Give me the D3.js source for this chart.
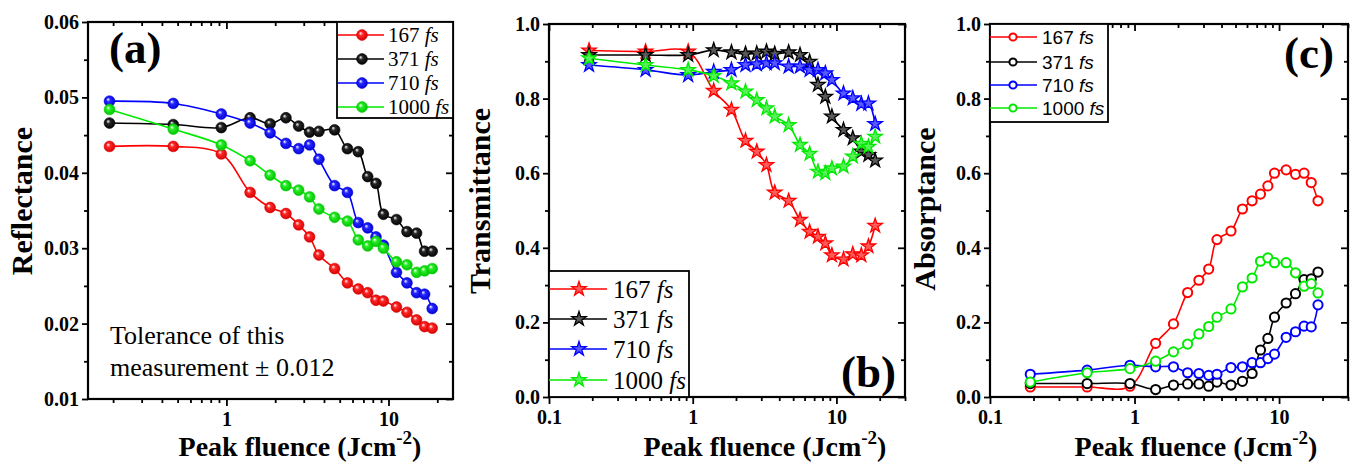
<!DOCTYPE html>
<html>
<head>
<meta charset="utf-8">
<script src="https://cdn.jsdelivr.net/npm/d3@7"></script>
<style>
  body { margin: 0; background: #fff; }
  text { fill: #000; }
</style>
</head>
<body>
<svg id="chart" width="1355" height="463"></svg>
<script>
// peak fluence (J/cm2), shared by all three panels
const fluence = [0.19, 0.47, 0.93, 1.4, 1.86, 2.33, 2.79, 3.26, 3.72, 4.65,
                 5.58, 6.51, 7.44, 8.37, 9.3, 11.2, 13.0, 14.9, 16.7, 18.6];
const durations = ["167", "371", "710", "1000"];
const colours = ["#ff0000", "#000000", "#0000ff", "#00ea00"];

const refl167 = [0.0435, 0.0435, 0.0425, 0.0374, 0.0354, 0.0346, 0.0331, 0.0315, 0.0291, 0.0273,
                 0.0254, 0.0246, 0.0241, 0.0231, 0.0230, 0.0222, 0.0215, 0.0205, 0.0196, 0.0194];
const refl371 = [0.0466, 0.0464, 0.0460, 0.0473, 0.0465, 0.0473, 0.0462, 0.0454, 0.0455, 0.0457,
                 0.0432, 0.0428, 0.0395, 0.0386, 0.0345, 0.0338, 0.0322, 0.0320, 0.0296, 0.0296];
const refl710 = [0.0495, 0.0492, 0.0478, 0.0466, 0.0453, 0.0439, 0.0432, 0.0437, 0.0418, 0.0383,
                 0.0374, 0.0334, 0.0327, 0.0315, 0.0304, 0.0268, 0.0254, 0.0241, 0.0239, 0.0220];
const refl1000 = [0.0484, 0.0458, 0.0437, 0.0416, 0.0397, 0.0383, 0.0377, 0.0368, 0.0352, 0.0341,
                  0.0336, 0.0311, 0.0303, 0.0309, 0.0300, 0.0282, 0.0278, 0.0268, 0.0270, 0.0273];

const trans167 = [0.929, 0.926, 0.926, 0.821, 0.770, 0.687, 0.658, 0.622, 0.548, 0.526,
                  0.475, 0.443, 0.430, 0.412, 0.380, 0.369, 0.383, 0.380, 0.404, 0.459];
const trans371 = [0.917, 0.917, 0.917, 0.930, 0.924, 0.920, 0.921, 0.926, 0.920, 0.924,
                  0.917, 0.899, 0.837, 0.805, 0.752, 0.716, 0.694, 0.658, 0.649, 0.634];
const trans710 = [0.890, 0.877, 0.863, 0.872, 0.877, 0.890, 0.892, 0.895, 0.895, 0.886,
                  0.886, 0.877, 0.877, 0.868, 0.850, 0.814, 0.801, 0.786, 0.787, 0.732];
const trans1000 = [0.908, 0.890, 0.877, 0.861, 0.841, 0.819, 0.796, 0.774, 0.752, 0.729,
                   0.676, 0.652, 0.604, 0.600, 0.613, 0.618, 0.645, 0.679, 0.671, 0.698];

const abs167 = [0.027, 0.027, 0.029, 0.144, 0.196, 0.280, 0.313, 0.343, 0.422, 0.445,
                0.504, 0.526, 0.544, 0.566, 0.600, 0.609, 0.597, 0.600, 0.575, 0.526];
const abs371 = [0.036, 0.036, 0.036, 0.020, 0.032, 0.035, 0.035, 0.029, 0.040, 0.032,
                0.042, 0.063, 0.126, 0.157, 0.214, 0.252, 0.277, 0.315, 0.317, 0.335];
const abs710 = [0.061, 0.072, 0.085, 0.081, 0.081, 0.065, 0.063, 0.058, 0.061, 0.079,
                0.081, 0.092, 0.092, 0.103, 0.115, 0.160, 0.175, 0.190, 0.188, 0.247];
const abs1000 = [0.040, 0.065, 0.076, 0.096, 0.121, 0.142, 0.169, 0.189, 0.214, 0.236,
                 0.295, 0.319, 0.364, 0.373, 0.360, 0.360, 0.333, 0.297, 0.304, 0.279];

const reflTicks = [0.01, 0.02, 0.03, 0.04, 0.05, 0.06];
const fracTicks = [0.0, 0.2, 0.4, 0.6, 0.8, 1.0];

const SERIF = "Liberation Serif, Times New Roman, serif";
const SANS = "Liberation Sans, Arial, sans-serif";

const svg = d3.select("#chart");
const defs = svg.append("defs");

colours.forEach((c, i) => {
  const grad = defs.append("radialGradient")
    .attr("id", `ball-${i}`)
    .attr("cx", "50%").attr("cy", "50%").attr("r", "55%")
    .attr("fx", "35%").attr("fy", "32%");
  grad.append("stop").attr("offset", "0%").attr("stop-color", "#fff");
  grad.append("stop").attr("offset", "35%").attr("stop-color", d3.interpolateRgb(c, "#fff")(0.15));
  grad.append("stop").attr("offset", "100%").attr("stop-color", d3.color(c).darker(0.6));
});

const starPath = d3.symbol(d3.symbolStar, 64)();

const drawMarker = (sel, type, i, small) => {
  const c = colours[i];
  if (type === "ball") {
    sel.append("circle").attr("r", 5.4)
      .attr("fill", `url(#ball-${i})`)
      .attr("stroke", d3.color(c).darker(0.3)).attr("stroke-width", 0.6);
  } else if (type === "star") {
    sel.append("path").attr("d", starPath)
      .attr("fill", d3.interpolateRgb(c, "#fff")(0.35))
      .attr("stroke", c).attr("stroke-width", 1.3);
  } else {
    sel.append("circle").attr("r", small ? 3.6 : 4.6)
      .attr("fill", "#fff")
      .attr("stroke", c).attr("stroke-width", 2);
  }
};

function drawPanel(p) {
  const x = d3.scaleLog().domain(p.xDomain).range([p.left, p.right]);
  const y = d3.scaleLinear().domain(p.yDomain).range([p.bottom, p.top]);
  const g = svg.append("g");

  const line = d3.line()
    .x(d => x(d[0]))
    .y(d => y(d[1]))
    .curve(d3.curveCatmullRom.alpha(0.5));

  p.series.forEach((s, i) => {
    g.append("path")
      .datum(d3.zip(fluence, s))
      .attr("d", line)
      .attr("fill", "none")
      .attr("stroke", colours[i])
      .attr("stroke-width", 1.6);
  });

  p.series.forEach((s, i) => {
    g.selectAll(null)
      .data(d3.zip(fluence, s))
      .enter()
      .append("g")
      .attr("transform", d => `translate(${x(d[0])},${y(d[1])})`)
      .each(function() { drawMarker(d3.select(this), p.marker, i); });
  });

  // log ticks: decades are major, the rest minor
  const xAll = x.ticks();
  const isMajor = v => Math.abs(Math.log10(v) - Math.round(Math.log10(v))) < 1e-6;
  const xMajor = xAll.filter(isMajor);
  const xMinor = xAll.filter(v => !isMajor(v));
  const yMinor = d3.range(p.yDomain[0] + p.yStep / 2, p.yDomain[1], p.yStep);

  const styleAxis = a => {
    a.attr("font-family", SERIF).attr("font-size", 20).attr("font-weight", "bold");
    a.select(".domain").remove();
    a.selectAll("line").attr("stroke", "#000").attr("stroke-width", 1.8);
  };

  const fmtX = d => (d < 1 ? d3.format(".1f")(d) : d3.format("d")(d));

  g.append("g").attr("transform", `translate(0,${p.bottom})`)
    .call(d3.axisBottom(x).tickValues(xMajor).tickFormat(fmtX).tickSize(7).tickPadding(6))
    .call(styleAxis);
  g.append("g").attr("transform", `translate(0,${p.bottom})`)
    .call(d3.axisBottom(x).tickValues(xMinor).tickFormat("").tickSize(4))
    .call(styleAxis);
  g.append("g").attr("transform", `translate(0,${p.top})`)
    .call(d3.axisBottom(x).tickValues(xMajor).tickFormat("").tickSize(7))
    .call(styleAxis);
  g.append("g").attr("transform", `translate(0,${p.top})`)
    .call(d3.axisBottom(x).tickValues(xMinor).tickFormat("").tickSize(4))
    .call(styleAxis);

  g.append("g").attr("transform", `translate(${p.left},0)`)
    .call(d3.axisLeft(y).tickValues(p.yTicks).tickFormat(d3.format(p.yFormat)).tickSize(6).tickPadding(3))
    .call(styleAxis);
  g.append("g").attr("transform", `translate(${p.left},0)`)
    .call(d3.axisLeft(y).tickValues(yMinor).tickFormat("").tickSize(4))
    .call(styleAxis);
  g.append("g").attr("transform", `translate(${p.right},0)`)
    .call(d3.axisLeft(y).tickValues(p.yTicks).tickFormat("").tickSize(7))
    .call(styleAxis);
  g.append("g").attr("transform", `translate(${p.right},0)`)
    .call(d3.axisLeft(y).tickValues(yMinor).tickFormat("").tickSize(4))
    .call(styleAxis);

  // frame
  g.append("rect")
    .attr("x", p.left).attr("y", p.top)
    .attr("width", p.right - p.left).attr("height", p.bottom - p.top)
    .attr("fill", "none").attr("stroke", "#000").attr("stroke-width", 2.2);

  // axis titles
  g.append("text")
    .attr("transform", `translate(${p.yTitleX},${p.yTitleY}) rotate(-90)`)
    .attr("text-anchor", "middle")
    .attr("font-family", SERIF).attr("font-size", 30).attr("font-weight", "bold")
    .text(p.yTitle);

  const xt = g.append("text")
    .attr("x", p.xTitleX).attr("y", 456)
    .attr("text-anchor", "middle")
    .attr("font-family", SERIF).attr("font-size", 28).attr("font-weight", "bold");
  xt.append("tspan").text("Peak fluence (Jcm");
  xt.append("tspan").attr("dy", -12).attr("font-size", 19).text("-2");
  xt.append("tspan").attr("dy", 12).text(")");

  // panel letter
  g.append("text")
    .attr("x", p.tagX).attr("y", p.tagY)
    .attr("text-anchor", p.tagAnchor)
    .attr("font-family", SERIF).attr("font-size", 45).attr("font-weight", "bold")
    .text(p.tag);

  // legend
  const L = p.legend;
  g.append("rect")
    .attr("x", L.x0).attr("y", L.y0)
    .attr("width", L.x1 - L.x0).attr("height", L.y1 - L.y0)
    .attr("fill", "#fff").attr("stroke", "#000").attr("stroke-width", 1.8);
  durations.forEach((d, i) => {
    const ry = L.rows[i];
    g.append("line")
      .attr("x1", L.lineX0).attr("x2", L.lineX1)
      .attr("y1", ry).attr("y2", ry)
      .attr("stroke", colours[i]).attr("stroke-width", 1.6);
    const m = g.append("g").attr("transform", `translate(${L.markX},${ry})`);
    drawMarker(m, p.marker, i, true);
    const t = g.append("text")
      .attr("x", L.textX).attr("y", ry + L.font * 0.35)
      .attr("font-size", L.font)
      .attr("font-family", L.family);
    t.append("tspan").text(`${d} `);
    t.append("tspan").attr("font-style", "italic").text("fs");
  });
}

drawPanel({
  left: 88, right: 453, top: 22, bottom: 399,
  xDomain: [0.14, 25], yDomain: [0.01, 0.06], yStep: 0.01,
  yTicks: reflTicks, yFormat: ".2f",
  series: [refl167, refl371, refl710, refl1000], marker: "ball",
  yTitle: "Reflectance", yTitleX: 32, yTitleY: 201, xTitleX: 300,
  tag: "(a)", tagX: 109, tagY: 63, tagAnchor: "start",
  legend: { x0: 337, x1: 453, y0: 22, y1: 118, rows: [35, 59, 83, 107],
            lineX0: 338, lineX1: 384, markX: 362, textX: 388, font: 21, family: SERIF }
});

drawPanel({
  left: 549, right: 905, top: 24, bottom: 397,
  xDomain: [0.1, 30], yDomain: [0, 1], yStep: 0.2,
  yTicks: fracTicks, yFormat: ".1f",
  series: [trans167, trans371, trans710, trans1000], marker: "star",
  yTitle: "Transmittance", yTitleX: 490, yTitleY: 201, xTitleX: 765,
  tag: "(b)", tagX: 896, tagY: 387, tagAnchor: "end",
  legend: { x0: 549, x1: 689, y0: 271, y1: 397, rows: [289, 319, 349, 380],
            lineX0: 549, lineX1: 607, markX: 579, textX: 613, font: 25, family: SERIF }
});

drawPanel({
  left: 990, right: 1348, top: 24, bottom: 397,
  xDomain: [0.1, 30], yDomain: [0, 1], yStep: 0.2,
  yTicks: fracTicks, yFormat: ".1f",
  series: [abs167, abs371, abs710, abs1000], marker: "open",
  yTitle: "Absorptance", yTitleX: 935, yTitleY: 209, xTitleX: 1196,
  tag: "(c)", tagX: 1334, tagY: 68, tagAnchor: "end",
  legend: { x0: 990, x1: 1108, y0: 24, y1: 122, rows: [37, 62, 85, 108],
            lineX0: 990, lineX1: 1037, markX: 1013, textX: 1042, font: 19, family: SANS }
});

// note inside panel (a)
const note = svg.append("text")
  .attr("font-family", SERIF).attr("font-size", 26);
note.append("tspan").attr("x", 110).attr("y", 344).text("Tolerance of this");
note.append("tspan").attr("x", 110).attr("y", 376).text("measurement \u00b1 0.012");
</script>
</body>
</html>
